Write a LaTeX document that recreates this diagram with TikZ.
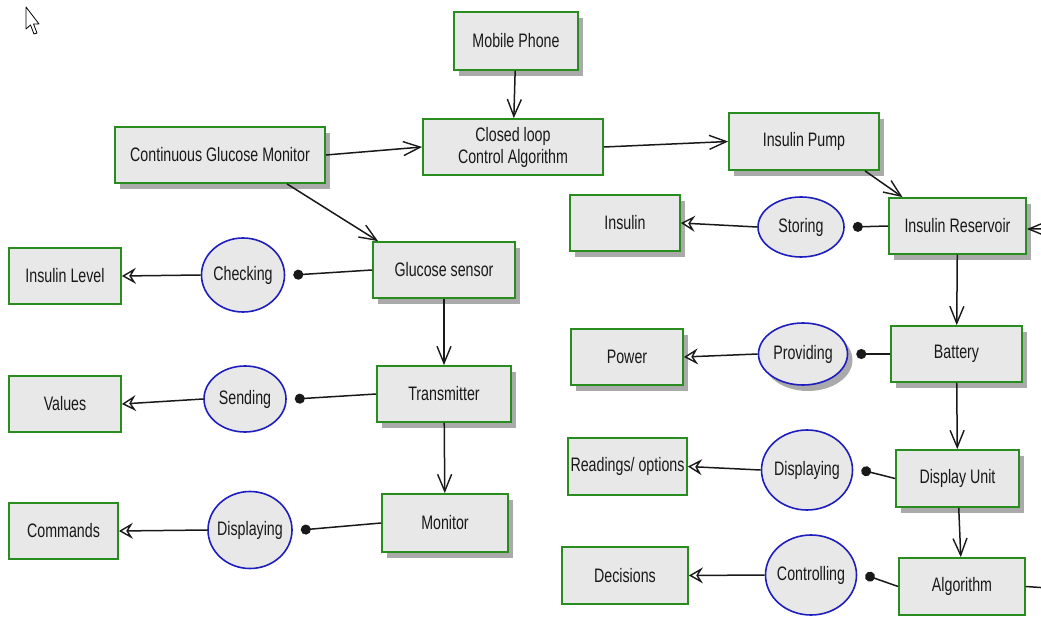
\documentclass[tikz,border=0pt]{standalone}
\usepackage{fontspec}
\setmainfont{Liberation Sans}[FakeStretch=0.73]
\usetikzlibrary{shapes.geometric,shadows,arrows.meta}
\definecolor{boxfill}{RGB}{232,232,232}
\definecolor{boxline}{RGB}{40,140,30}
\definecolor{ovalline}{RGB}{30,30,190}
\definecolor{shadowgray}{RGB}{170,170,170}
\definecolor{ink}{RGB}{25,25,25}

\begin{document}
\begin{tikzpicture}[x=1pt,y=-1pt,
  font=\fontsize{19.5}{22}\selectfont, text=ink,
  block/.style={rectangle, draw=boxline, fill=boxfill, line width=1.8pt, inner sep=0pt, align=center},
  shadowed/.style={drop shadow={shadow xshift=5pt, shadow yshift=-6pt, fill=shadowgray, opacity=1}},
  act/.style={ellipse, draw=ovalline, fill=boxfill, line width=1.6pt, inner sep=0pt,
    execute at begin node={\hbox to 0pt\bgroup\hss}, execute at end node={\hss\egroup}},
  flow/.style={draw=ink, line width=1.5pt, -{Straight Barb[length=17pt,width=14pt,line width=1.4pt]}},
  link/.style={draw=ink, line width=1.5pt, -{Circle[length=10pt]}},
  yields/.style={draw=ink, line width=1.5pt, -{Stealth[open,length=14pt,width=16pt,inset=5pt,line width=1.4pt]}}
]
\clip (0,0) rectangle (1041,617);
\fill[white] (0,0) rectangle (1041,617);

% mouse pointer
\draw[fill=white, line width=0.8pt, line join=round] (26,7) -- (26,29) -- (30.5,25) -- (34,34) -- (37,33) -- (33.5,24) -- (39,24) -- cycle;

% ---- upper part ----
\node[block, shadowed, minimum width=124pt, minimum height=58pt] (mob) at (516,41) {Mobile Phone};
\node[block, minimum width=180pt, minimum height=56pt] (ctl) at (513,147) {Closed loop\\Control Algorithm};
\node[block, shadowed, minimum width=210pt, minimum height=56pt] (cgm) at (220,155) {Continuous Glucose Monitor};
\node[block, shadowed, minimum width=150pt, minimum height=57pt] (pump) at (804,141.5) {Insulin Pump};

% ---- left column ----
\node[block, shadowed, minimum width=142pt, minimum height=56pt] (gs) at (444,270) {Glucose sensor};
\node[act, minimum width=83pt, minimum height=74pt] (chk) at (243,275) {Checking};
\node[block, minimum width=112pt, minimum height=56pt] (ilv) at (65,276) {Insulin Level};

\node[block, shadowed, minimum width=134pt, minimum height=56pt] (tx) at (444,394) {Transmitter};
\node[act, minimum width=82pt, minimum height=66pt] (snd) at (245,399) {Sending};
\node[block, minimum width=112pt, minimum height=56pt] (val) at (65,404) {Values};

\node[block, shadowed, minimum width=126pt, minimum height=58pt] (mon) at (445,523) {Monitor};
\node[act, minimum width=84pt, minimum height=77pt] (dspl) at (250,530) {Displaying};
\node[block, minimum width=109pt, minimum height=56pt] (cmd) at (63.5,531) {Commands};

% ---- right column ----
\node[block, shadowed, minimum width=137pt, minimum height=56pt] (res) at (957.5,226) {Insulin Reservoir};
\node[act, minimum width=86pt, minimum height=60pt] (sto) at (801,227) {Storing};
\node[block, shadowed, minimum width=110pt, minimum height=56pt] (ins) at (625,223) {Insulin};

\node[block, shadowed, minimum width=131pt, minimum height=56pt] (bat) at (956.5,354) {Battery};
\node[act, shadowed, minimum width=89pt, minimum height=62pt] (prv) at (803,354) {Providing};
\node[block, shadowed, minimum width=112pt, minimum height=56pt] (pwr) at (627,357) {Power};

\node[block, shadowed, minimum width=123pt, minimum height=57pt] (du) at (957.5,478.5) {Display Unit};
\node[act, minimum width=91pt, minimum height=80pt] (dspr) at (807,470) {Displaying};
\node[block, minimum width=119pt, minimum height=57pt] (rdg) at (627.5,466.5) {Readings/ options};

\node[block, minimum width=126pt, minimum height=57pt] (alg) at (962,586.5) {Algorithm};
\node[act, minimum width=91pt, minimum height=80pt] (ctrl) at (811,575) {Controlling};
\node[block, minimum width=126pt, minimum height=57pt] (dec) at (625,575.5) {Decisions};

% ---- main flow ----
\draw[flow] (mob) -- (ctl);
\draw[flow] (cgm.east) -- (ctl.west);
\draw[flow] (ctl.east) -- (pump.west);
\draw[flow] ([xshift=61pt]pump.south) -- ([xshift=-55pt]res.north);
\draw[flow] ([xshift=67pt]cgm.south) -- ([xshift=-66pt]gs.north);
\draw[flow] (gs) -- (tx);
\draw[flow] (tx) -- (mon);
\draw[flow] (res) -- (bat);
\draw[flow] (bat) -- (du);
\draw[flow] (du) -- (alg);

% feedback from the algorithm back to the reservoir
\coordinate (loopA) at (1062,589);
\coordinate (loopB) at (1062,229);
\draw[flow] (alg.east) -- (loopA) -- (loopB) -- (res.east |- loopB);

% ---- activities ----
\draw[link] (gs.west) -- ([xshift=8pt]chk.east);
\draw[yields] (chk.west) -- (ilv.east);
\draw[link] (tx.west) -- ([xshift=8pt]snd.east);
\draw[yields] (snd.west) -- (val.east);
\draw[link] (mon.west) -- ([xshift=8pt]dspl.east);
\draw[yields] (dspl.west) -- (cmd.east);

\draw[link] (res.west) -- ([xshift=8pt]sto.east);
\draw[yields] (sto.west) -- (ins.east);
\draw[link] (bat.west) -- ([xshift=8pt]prv.east);
\draw[yields] (prv.west) -- (pwr.east);
\draw[link] (du.west) -- ([xshift=8pt]dspr.east);
\draw[yields] (dspr.west) -- (rdg.east);
\draw[link] (alg.west) -- ([xshift=8pt]ctrl.east);
\draw[yields] (ctrl.west) -- (dec.east);
\end{tikzpicture}
\end{document}
